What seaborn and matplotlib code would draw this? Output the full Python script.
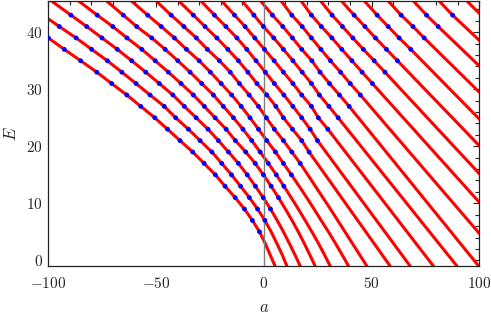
import numpy as np
import pandas as pd
import matplotlib
matplotlib.use("Agg")
import matplotlib.pyplot as plt
import seaborn as sns

n = np.nan

E_levels = [45.5, 43, 41, 39, 37, 35, 33, 31, 29, 27, 25, 23, 21, 19, 17, 15, 13, 11, 9, 7, 5, 3, 1, -1]

# a-position of each curve at those levels (nan = not read / not needed)
k00 = [n, -115, -107.5, -100, -92.6, -85.0, -77.5, -70.6, -63.6, -57.1, -50.6, -44.7, -38.9, -33.0, -27.7, -22.5, -18.0, -13.3, -9.0, -5.3, -2.0, 0.6, 2.9, 5.2]
k01 = [-110, -102.5, -94.9, -87.1, -79.9, -72.6, -65.9, -59.3, -52.8, -46.2, -40.9, -35.0, -29.6, -24.1, -19.5, -15.0, -10.8, -6.7, -2.9, 0.5, 3.4, 6.0, 8.5, 10.7]
k02 = [-98.6, -89.5, -82.2, -75.1, -68.0, -61.3, -54.8, -48.5, -42.2, -36.9, -31.4, -25.9, -21.1, -16.4, -11.8, -7.7, -3.9, -0.3, 3.1, 6.2, 9.1, 11.8, 14.4, 16.9]
k03 = [-86.0, -77.3, -70.1, -63.5, -56.6, -50.4, -44.3, -38.4, -32.7, -27.6, -22.6, -17.5, -13.2, -8.4, -4.0, -0.2, 3.4, 6.8, 10.0, 13.1, 16.0, 18.7, 21.3, 23.8]
k04 = [-73.0, -65.2, -59.0, -52.0, -45.8, -39.9, -34.2, -28.8, -23.4, -18.8, -14.1, -9.7, -5.6, -1.7, 2.1, 5.8, 9.3, 12.7, 16.0, 19.2, 22.3, 25.3, 28.1, 30.8]
k05 = [-61.5, -53.9, -47.6, -41.5, -35.9, -30.0, -24.8, -19.8, -14.9, -10.5, -6.4, -2.5, 1.4, 5.4, 9.1, 12.8, 16.4, 19.9, 23.3, 26.6, 30.0, 33.2, 36.3, 39.3]
k06 = [-50.0, -43.0, -37.1, -31.3, -26.2, -20.6, -15.6, -11.3, -6.8, -2.5, 1.2, 4.9, 9.1, 13.0, 16.9, n, n, n, 30.9, n, n, n, n, 47.8]
k07 = [-39.5, -32.7, -27.3, -21.8, -16.7, -11.8, -7.4, -3.2, 1.4, 5.6, 9.1, 13.3, 17.6, 21.0, n, n, n, n, n, n, n, n, n, 58.6]
k08 = [-29.2, -22.9, -17.6, -12.5, -7.9, -3.6, 0.7, 4.9, 9.3, 13.5, 17.6, 21.5, 24.9, n, n, n, n, n, n, n, n, n, n, 67.9]
k09 = [-19.6, -13.6, -8.7, -4.2, 0.3, 4.8, 9.1, 13.5, 17.6, 22.1, 25.3, 29.7, n, n, n, n, n, n, n, n, n, n, n, 78.7]
k10 = [-10.1, -4.6, -0.2, 4.6, 9.1, 13.5, 17.8, 22.1, 25.8, 30.2, 34.5, n, n, n, n, n, n, n, n, n, n, n, n, 89.6]
k11 = [-1.5, 4.0, 8.8, 13.3, 17.6, 22.3, 26.1, 30.5, 35.1, 39.6, n, n, n, n, n, n, n, n, n, n, n, n, n, 99.7]
k12 = [8.0, 13.0, 17.8, 22.1, 26.5, 30.9, 35.6, 40.1, 44.8, n, n, n, n, n, n, n, n, n, n, n, n, 103.9, n, n]
k13 = [17.3, 22.1, 26.7, 31.6, 36.2, 40.9, 45.6, 50.4, n, n, n, n, n, n, n, n, n, n, 102.8, n, n, n, n, n]
k14 = [26.3, 31.7, 36.5, 41.3, 46.2, 51.2, 56.2, n, n, n, n, n, n, n, n, n, 105.4, n, n, n, n, n, n, n]
k15 = [36.0, 41.9, 46.9, 51.8, 56.9, 62.0, n, n, n, n, n, n, n, 102.8, n, n, n, n, n, n, n, n, n, n]
k16 = [46.6, 52.6, 57.7, 62.8, 68.2, n, n, n, n, n, n, 104.6, n, n, n, n, n, n, n, n, n, n, n, n]
k17 = [57.7, 63.7, 69.2, 74.4, n, n, n, n, 101.3, n, n, n, n, n, n, n, n, n, n, n, n, n, n, n]
k18 = [69.4, 75.5, 80.9, n, n, n, 103.0, n, n, n, n, n, n, n, n, n, n, n, n, n, n, n, n, n]
k19 = [81.3, 87.6, n, n, 104.4, n, n, n, n, n, n, n, n, n, n, n, n, n, n, n, n, n, n, n]
k20 = [94.2, n, 106.1, n, n, n, n, n, n, n, n, n, n, n, n, n, n, n, n, n, n, n, n, n]

curves = [k00, k01, k02, k03, k04, k05, k06, k07, k08, k09, k10,
          k11, k12, k13, k14, k15, k16, k17, k18, k19, k20]

# lowest odd E at which each curve carries a blue marker
first_dot = [5, 7, 9, 11, 13, 15, 17, 19, 21, 23, 25, 27, 29, 31, 33, 35, 37, 39, 41, 43, 45]

xticks = [-100, -50, 0, 50, 100]
yticks = [0, 10, 20, 30, 40]

rows = []
for k, vals in enumerate(curves):
    for E, a in zip(E_levels, vals):
        if not np.isnan(a):
            dot = (E == int(E)) and int(E) % 2 == 1 and E >= first_dot[k]
            rows.append({"curve": k, "a": a, "E": E, "dot": dot})
df = pd.DataFrame(rows)

sns.set_theme(style="white")
plt.rcParams["mathtext.fontset"] = "cm"
plt.rcParams["font.family"] = ["DejaVu Serif"]

fig = plt.figure(figsize=(4.91, 3.21), dpi=100)
ax = fig.add_axes([0.0984, 0.1713, 0.8778, 0.826])

sns.lineplot(data=df, x="a", y="E", units="curve", estimator=None, sort=False,
             color="red", lw=2.2, ax=ax, zorder=2)
# the a = 0 guide sits over the red curves
ax.axvline(0, color="#808080", lw=1.0, zorder=2.5)
sns.scatterplot(data=df[df["dot"]], x="a", y="E", color="blue", s=12,
                edgecolor="none", ax=ax, zorder=3)

ax.set_xlim(-100, 100)
ax.set_ylim(-1, 45.5)

ax.set_xticks(xticks)
ax.set_xticklabels([f"${t}$" for t in xticks], fontsize=11)
ax.set_yticks(yticks)
ax.set_yticklabels([f"${t}$" for t in yticks], fontsize=11)
ax.set_xticks(np.arange(-100, 101, 10), minor=True)
ax.set_yticks(np.arange(0, 46, 2), minor=True)
ax.tick_params(which="both", direction="in", top=True, right=True, color="#222222", width=0.8)
ax.tick_params(which="major", length=4.5, pad=7)
ax.tick_params(which="minor", length=2.6)
ax.tick_params(axis="y", which="major", pad=4)

for s in ax.spines.values():
    s.set_color("#222222")
    s.set_linewidth(0.9)

ax.set_xlabel("$a$", fontsize=12, labelpad=6)
ax.set_ylabel("$E$", fontsize=12, labelpad=4)

fig.savefig("out.png", dpi=100)
